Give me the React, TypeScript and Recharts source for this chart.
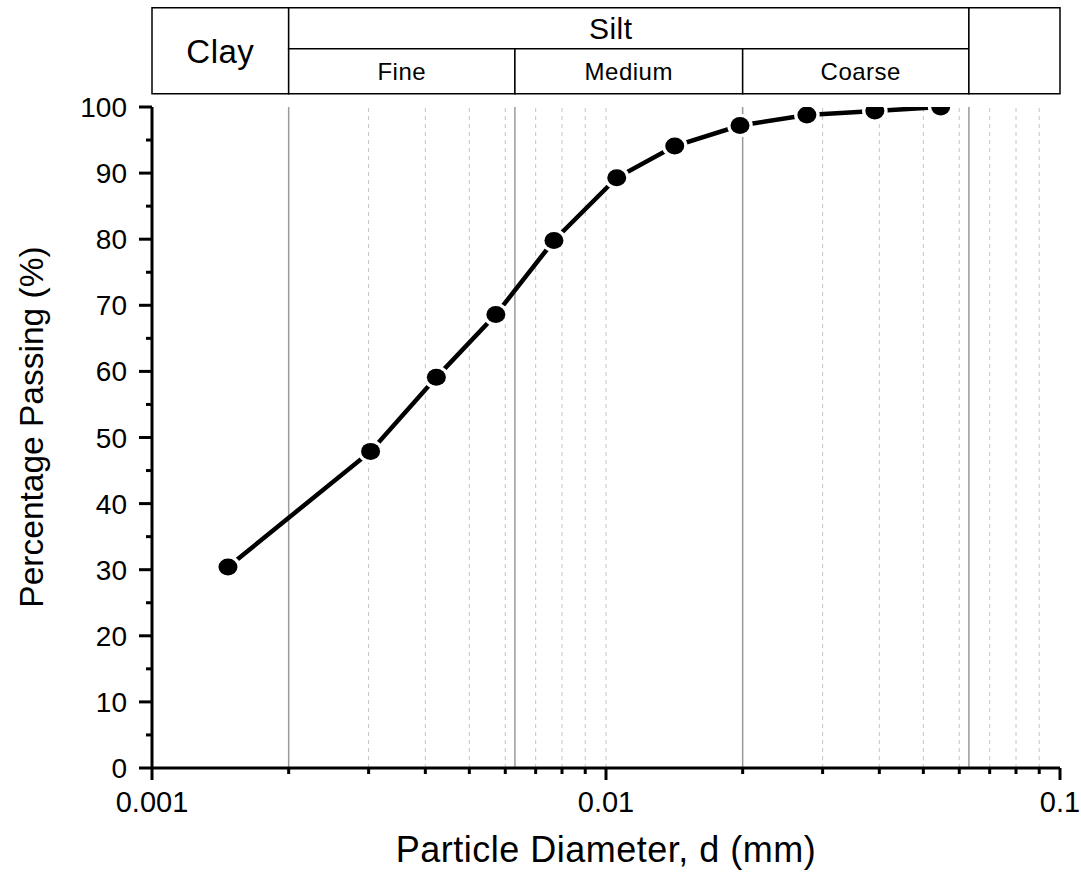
import React from 'react';
import {
	LineChart, Line, XAxis, YAxis, ReferenceLine, ReferenceArea, Customized
} from 'recharts';

// grain size distribution (hydrometer)
const diameters = [0.00147, 0.00303, 0.00423, 0.00572, 0.00768, 0.01056, 0.01417, 0.01973, 0.0277, 0.0391, 0.0546];
const passing = [30.4, 47.9, 59.1, 68.6, 79.8, 89.3, 94.1, 97.2, 98.8, 99.4, 100];

const xTicks = [
	0.001, 0.002, 0.003, 0.004, 0.005, 0.006, 0.007, 0.008, 0.009,
	0.01, 0.02, 0.03, 0.04, 0.05, 0.06, 0.07, 0.08, 0.09, 0.1
];
const xMajorTicks = [0.001, 0.01, 0.1];
const xTickLabels = ['0.001', '0.01', '0.1'];

const yTicks = [0, 5, 10, 15, 20, 25, 30, 35, 40, 45, 50, 55, 60, 65, 70, 75, 80, 85, 90, 95, 100];
const yMajorTicks = [0, 10, 20, 30, 40, 50, 60, 70, 80, 90, 100];

const minorGrid = [0.003, 0.004, 0.005, 0.006, 0.007, 0.008, 0.009, 0.01, 0.03, 0.04, 0.05, 0.06, 0.07, 0.08, 0.09];
// soil class limits (mm)
const classLimits = [0.002, 0.0063, 0.02, 0.063];
const siltParts = ['Fine', 'Medium', 'Coarse'];

const data = diameters.map((d, i) => ({ d, p: passing[i] }));

const FONT = '"Liberation Sans", Arial, Helvetica, sans-serif';

const XTick = (props: any) => {
	const { x, y, payload } = props;
	const idx = xMajorTicks.indexOf(payload.value);
	const major = idx >= 0;
	return (
		<g>
			<line x1={x} x2={x} y1={y} y2={y + (major ? 12 : 6)} stroke="#000" strokeWidth={3} />
			{major && (
				<text x={x} y={y + 44} textAnchor="middle" fontSize={29} fontFamily={FONT} fill="#000">
					{xTickLabels[idx]}
				</text>
			)}
		</g>
	);
};

const YTick = (props: any) => {
	const { x, y, payload } = props;
	const major = yMajorTicks.includes(payload.value);
	return (
		<g>
			<line x1={x} x2={x - (major ? 13 : 6)} y1={y} y2={y} stroke="#000" strokeWidth={3} />
			{major && (
				<text x={x - 25} y={y} dy="0.36em" textAnchor="end" fontSize={28} fontFamily={FONT} fill="#000">
					{payload.value}
				</text>
			)}
		</g>
	);
};

const renderDot = (props: any) => {
	const { cx, cy, index } = props;
	return (
		<g key={`dot-${index}`}>
			<ellipse cx={cx} cy={cy} rx={12.8} ry={11.8} fill="#fff" />
			<ellipse cx={cx} cy={cy} rx={9.5} ry={8.5} fill="#000" />
		</g>
	);
};

const cellLabel = (value: string, size: number, dx = 0) => ({
	value, position: 'center' as const, fontSize: size, fill: '#000', fontFamily: FONT, dx, letterSpacing: 0.5
});

export default function App() {
	const [clay, silt1, silt2, silt3, silt4] = [0.001, ...classLimits];
	return (
		<div style={{ position: 'absolute', left: 0, top: 0, background: '#fff' }}>
			<LineChart
				width={1081}
				height={877}
				data={data}
				margin={{ top: 107, right: 21, bottom: 0, left: 0 }}
				style={{ fontFamily: FONT }}
			>
				{minorGrid.map((v) => (
					<ReferenceLine key={`m${v}`} x={v} stroke="#c4c4c4" strokeWidth={1} strokeDasharray="4 4" />
				))}
				{classLimits.map((v) => (
					<ReferenceLine key={`c${v}`} x={v} stroke="#9a9a9a" strokeWidth={1.5} />
				))}

				{/* classification header above the plot */}
				<ReferenceArea x1={clay} x2={silt1} y1={102} y2={115} ifOverflow="visible"
					fill="#fff" fillOpacity={1} stroke="#000" strokeWidth={1.5} label={cellLabel('Clay', 33)} />
				<ReferenceArea x1={silt1} x2={silt4} y1={108.8} y2={115} ifOverflow="visible"
					fill="#fff" fillOpacity={1} stroke="#000" strokeWidth={1.5} label={cellLabel('Silt', 30, -18)} />
				<ReferenceArea x1={silt1} x2={silt2} y1={102} y2={108.8} ifOverflow="visible"
					fill="#fff" fillOpacity={1} stroke="#000" strokeWidth={1.5} label={cellLabel(siltParts[0], 24)} />
				<ReferenceArea x1={silt2} x2={silt3} y1={102} y2={108.8} ifOverflow="visible"
					fill="#fff" fillOpacity={1} stroke="#000" strokeWidth={1.5} label={cellLabel(siltParts[1], 24)} />
				<ReferenceArea x1={silt3} x2={silt4} y1={102} y2={108.8} ifOverflow="visible"
					fill="#fff" fillOpacity={1} stroke="#000" strokeWidth={1.5} label={cellLabel(siltParts[2], 24, 5)} />
				<ReferenceArea x1={silt4} x2={0.1} y1={102} y2={115} ifOverflow="visible"
					fill="#fff" fillOpacity={1} stroke="#000" strokeWidth={1.5} />

				<XAxis
					dataKey="d"
					type="number"
					scale="log"
					domain={[0.001, 0.1]}
					allowDataOverflow
					ticks={xTicks}
					interval={0}
					height={109}
					tickSize={0}
					tickMargin={0}
					tickLine={false}
					tick={<XTick />}
					axisLine={{ stroke: '#000', strokeWidth: 3 }}
				/>
				<XAxis
					xAxisId="top"
					orientation="top"
					type="number"
					scale="log"
					domain={[0.001, 0.1]}
					allowDataOverflow
					height={0}
					tick={false}
					tickLine={false}
					axisLine={{ stroke: '#000', strokeWidth: 3 }}
				/>
				<YAxis
					type="number"
					domain={[0, 100]}
					allowDataOverflow
					ticks={yTicks}
					interval={0}
					width={152}
					tickSize={0}
					tickMargin={0}
					tickLine={false}
					tick={<YTick />}
					axisLine={{ stroke: '#000', strokeWidth: 3 }}
				/>
				<YAxis
					yAxisId="right"
					orientation="right"
					type="number"
					domain={[0, 100]}
					width={0}
					tick={false}
					tickLine={false}
					axisLine={{ stroke: '#000', strokeWidth: 3 }}
				/>

				<Line
					type="linear"
					dataKey="p"
					stroke="#000"
					strokeWidth={4.5}
					dot={renderDot}
					activeDot={false}
					isAnimationActive={false}
				/>

				<Customized
					component={() => (
						<g fontFamily={FONT} fill="#000">
							<text x={606} y={862} textAnchor="middle" fontSize={36} letterSpacing={0.5}>
								Particle Diameter, d (mm)
							</text>
							<text x={43} y={427} textAnchor="middle" fontSize={33.5} transform="rotate(-90 43 427)">
								Percentage Passing (%)
							</text>
						</g>
					)}
				/>
			</LineChart>
		</div>
	);
}
